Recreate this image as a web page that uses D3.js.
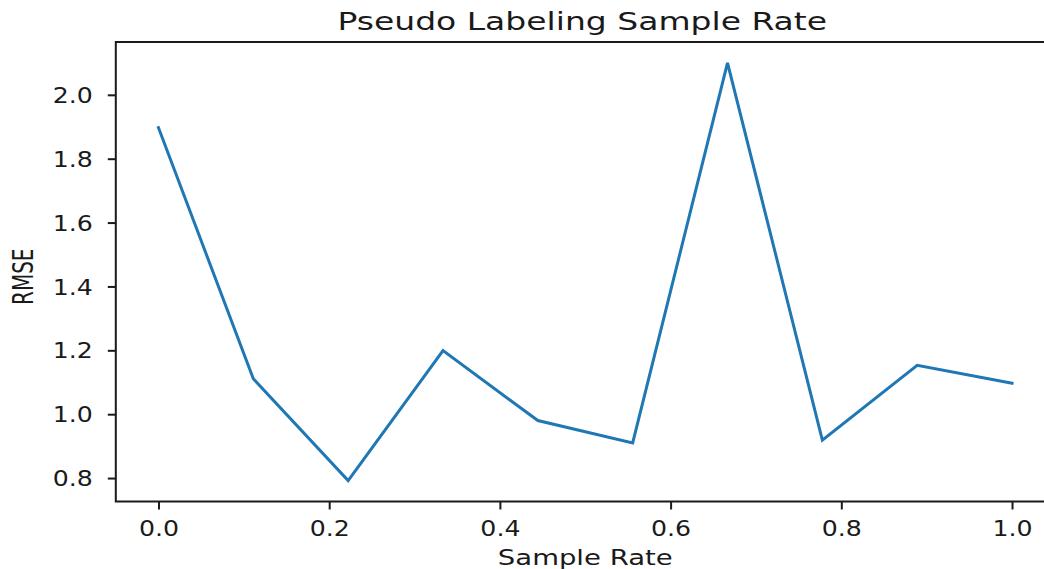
<!DOCTYPE html>
<html>
<head>
<meta charset="utf-8">
<script src="https://cdn.jsdelivr.net/npm/d3@7"></script>
<style>
  html, body { margin: 0; padding: 0; background: #fff; }
  svg { display: block; }
  text { font-family: "DejaVu Sans", sans-serif; fill: #1a1a1a; }
</style>
</head>
<body>
<svg id="chart" width="1044" height="569"></svg>
<script>
// Sample rate used for pseudo labeling and the resulting RMSE
const sampleRates = [0, 1/9, 2/9, 3/9, 4/9, 5/9, 6/9, 7/9, 8/9, 1];
const rmseValues  = [1.897, 1.111, 0.792, 1.199, 0.980, 0.910, 2.100, 0.919, 1.153, 1.097];
const xTickValues = [0.0, 0.2, 0.4, 0.6, 0.8, 1.0];
const yTickValues = [0.8, 1.0, 1.2, 1.4, 1.6, 1.8, 2.0];

const chartTitle = "Pseudo Labeling Sample Rate";
const xTitle = "Sample Rate";
const yTitle = "RMSE";

const svg = d3.select("#chart");

// plot box; the frame runs past the right edge of the canvas
const plotLeft = 115.8, plotRight = 1054.7, plotTop = 42, plotBottom = 501.5;

// 5% padding around the data, as in the usual plotting defaults
const xMin = d3.min(sampleRates), xMax = d3.max(sampleRates);
const xPad = (xMax - xMin) * 0.05;
const yMin = d3.min(rmseValues), yMax = d3.max(rmseValues);
const yPad = (yMax - yMin) * 0.05;

const x = d3.scaleLinear().domain([xMin - xPad, xMax + xPad]).range([plotLeft, plotRight]);
const y = d3.scaleLinear().domain([yMin - yPad, yMax + yPad]).range([plotBottom, plotTop]);

const stretchTicks = 1.2;

// data line
const line = d3.line().x((d, i) => x(sampleRates[i])).y(d => y(d));
svg.append("path")
  .datum(rmseValues)
  .attr("d", line)
  .attr("fill", "none")
  .attr("stroke", "#1f77b4")
  .attr("stroke-width", 3)
  .attr("stroke-linejoin", "miter")
  .attr("stroke-linecap", "square");

// frame
svg.append("rect")
  .attr("x", plotLeft).attr("y", plotTop)
  .attr("width", plotRight - plotLeft).attr("height", plotBottom - plotTop)
  .attr("fill", "none")
  .attr("stroke", "#1a1a1a")
  .attr("stroke-width", 2);

// x axis
const xAxis = svg.append("g")
  .attr("transform", `translate(0,${plotBottom})`)
  .call(d3.axisBottom(x).tickValues(xTickValues).tickFormat(d3.format(".1f")).tickSize(8).tickSizeOuter(0));
xAxis.select(".domain").remove();
xAxis.selectAll(".tick line").attr("stroke", "#1a1a1a").attr("stroke-width", 2);
xAxis.selectAll(".tick text")
  .attr("y", null).attr("dy", null)
  .attr("transform", `translate(0,34) scale(${stretchTicks},1)`)
  .attr("text-anchor", "middle")
  .style("font-size", "21px")
  .attr("fill", "#1a1a1a");

// y axis
const yAxis = svg.append("g")
  .attr("transform", `translate(${plotLeft},0)`)
  .call(d3.axisLeft(y).tickValues(yTickValues).tickFormat(d3.format(".1f")).tickSize(8).tickSizeOuter(0));
yAxis.select(".domain").remove();
yAxis.selectAll(".tick line").attr("stroke", "#1a1a1a").attr("stroke-width", 2);
yAxis.selectAll(".tick text")
  .attr("x", null).attr("dy", "0.36em")
  .attr("transform", `translate(-23,0) scale(${stretchTicks},1)`)
  .attr("text-anchor", "end")
  .style("font-size", "21px")
  .attr("fill", "#1a1a1a");

// titles
const cx = (plotLeft + plotRight) / 2;
svg.append("text")
  .attr("transform", `translate(${cx - 3},30) scale(1.32,1)`)
  .attr("text-anchor", "middle")
  .style("font-size", "25px")
  .text(chartTitle);

svg.append("text")
  .attr("transform", `translate(${cx},565) scale(1.25,1)`)
  .attr("text-anchor", "middle")
  .style("font-size", "22px")
  .text(xTitle);

svg.append("text")
  .attr("transform", `translate(33,${(plotTop + plotBottom) / 2 + 5}) scale(1.4,1) rotate(-90)`)
  .attr("text-anchor", "middle")
  .style("font-size", "20px")
  .text(yTitle);
</script>
</body>
</html>
